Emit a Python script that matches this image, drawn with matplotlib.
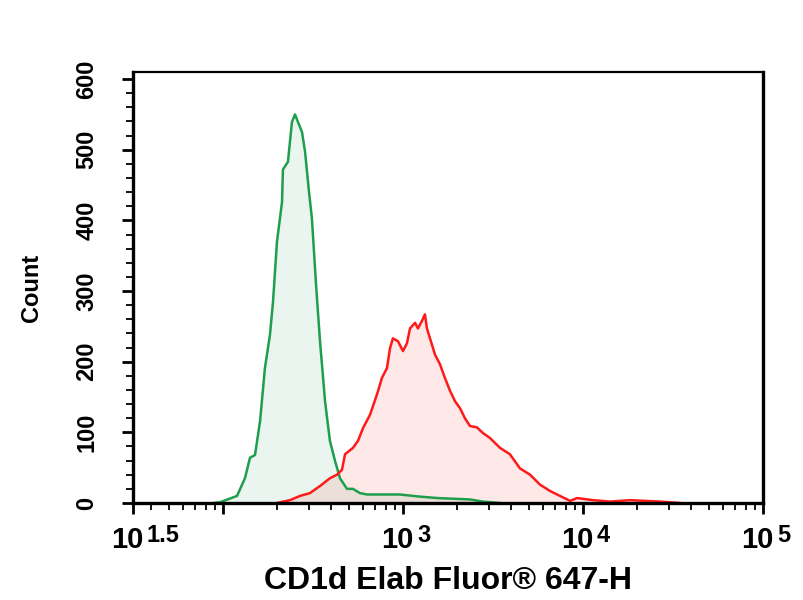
import numpy as np
import matplotlib
matplotlib.use("Agg")
import matplotlib.pyplot as plt
from matplotlib.ticker import FixedLocator, NullFormatter, MultipleLocator

# ==========================================
# datos leidos del histograma (log10 del canal, cuentas)
# ==========================================

green_log = [1.95, 1.983, 2.078, 2.122, 2.150, 2.178, 2.206, 2.233, 2.261, 2.278,
             2.300, 2.328, 2.333, 2.361, 2.383, 2.400, 2.417, 2.439, 2.456, 2.478,
             2.494, 2.517, 2.539, 2.567, 2.594, 2.622, 2.650, 2.689, 2.722, 2.761,
             2.800, 2.872, 2.983, 3.094, 3.189, 3.372, 3.444, 3.539]
green_count = [0, 1, 10, 35, 64, 68, 116, 191, 238, 285,
               370, 426, 472, 483, 539, 550, 539, 525, 497, 440,
               403, 309, 229, 144, 88, 60, 35, 20, 20, 14,
               12, 12, 12, 9, 7, 5, 2, 0]

red_log = [2.300, 2.372, 2.428, 2.483, 2.539, 2.594, 2.633, 2.661, 2.678, 2.722,
           2.750, 2.778, 2.817, 2.856, 2.883, 2.911, 2.928, 2.944, 2.972, 3.000,
           3.022, 3.039, 3.067, 3.083, 3.106, 3.122, 3.133, 3.150, 3.178, 3.206,
           3.233, 3.261, 3.289, 3.317, 3.344, 3.372, 3.411, 3.444, 3.483, 3.539,
           3.594, 3.650, 3.706, 3.761, 3.817, 3.872, 3.928, 3.967, 4.056, 4.150,
           4.261, 4.428, 4.539]
red_count = [0, 4, 10, 14, 24, 35, 40, 47, 69, 78,
             88, 106, 125, 154, 177, 191, 219, 233, 229, 215,
             226, 247, 255, 247, 258, 267, 247, 233, 210, 196,
             177, 159, 144, 134, 120, 109, 107, 99, 92, 78,
             69, 49, 40, 26, 17, 10, 3, 7, 4, 2,
             4, 2, 0]

x_ticks = [10**1.5, 10**2, 10**3, 10**4, 10**5]
x_exponents = ['1.5', '', '3', '4', '5']

# ==========================================
# grafica
# ==========================================

plt.rcParams['font.family'] = ['Liberation Sans', 'DejaVu Sans']

fig = plt.figure(figsize=(8.04, 6.0), dpi=100)
ax = fig.add_axes([0.1654, 0.1617, 0.7836, 0.7183])

gx = 10 ** np.array(green_log)
rx = 10 ** np.array(red_log)

ax.fill_between(gx, green_count, color='#2ea55a', alpha=0.10, linewidth=0)
ax.fill_between(rx, red_count, color='#ff2020', alpha=0.10, linewidth=0)
ax.plot(gx, green_count, color='#1f9e4e', linewidth=1.8)
ax.plot(rx, red_count, color='#ff1a1a', linewidth=1.8)

ax.set_xscale('log')
ax.set_xlim(10**1.5, 10**5)
ax.set_ylim(0, 610)

ax.xaxis.set_major_locator(FixedLocator(x_ticks))
ax.xaxis.set_major_formatter(NullFormatter())
minors = [m * 10**d for d in range(1, 5) for m in range(2, 10) if 10**1.5 < m * 10**d < 10**5]
ax.xaxis.set_minor_locator(FixedLocator(minors))
ax.xaxis.set_minor_formatter(NullFormatter())

# etiquetas 10^n con exponente grande
for v, e in zip(x_ticks, x_exponents):
    if e == '':
        continue
    ax.annotate('10', xy=(v, 0), xycoords=('data', 'axes fraction'),
                xytext=(11, -45), textcoords='offset pixels',
                ha='right', va='baseline', fontsize=21, fontweight='bold')
    ax.annotate(e, xy=(v, 0), xycoords=('data', 'axes fraction'),
                xytext=(14, -39), textcoords='offset pixels',
                ha='left', va='baseline', fontsize=17, fontweight='bold')

ax.yaxis.set_major_locator(MultipleLocator(100))
ax.yaxis.set_minor_locator(MultipleLocator(20))

ax.tick_params(axis='both', which='major', direction='out', length=8, width=2, color='black')
ax.tick_params(axis='both', which='minor', direction='out', length=5, width=1.3, color='black')
ax.tick_params(axis='y', which='major', labelsize=17, pad=17)

for lbl in ax.get_yticklabels():
    lbl.set_rotation(90)
    lbl.set_va('center')
    lbl.set_fontweight('bold')

for side in ['left', 'bottom', 'right']:
    ax.spines[side].set_linewidth(2.4)
ax.spines['top'].set_linewidth(1.6)

ax.annotate('CD1d Elab Fluor® 647-H', xy=(0.5, 0), xycoords='axes fraction',
            xytext=(0, -86), textcoords='offset pixels',
            ha='center', va='baseline', fontsize=23, fontweight='bold')
ax.set_ylabel('Count', fontsize=17, fontweight='bold')
ax.yaxis.set_label_coords(-0.143, 0.5)

fig.savefig('out.png', dpi=100, facecolor='white')
